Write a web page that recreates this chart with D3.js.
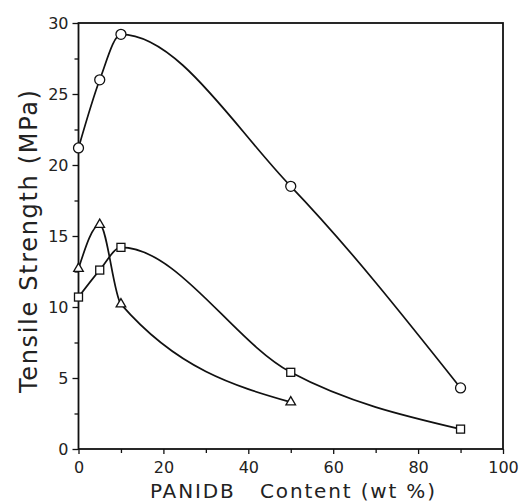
<!DOCTYPE html>
<html><head><meta charset="utf-8">
<script src="https://cdn.jsdelivr.net/npm/d3@7"></script>
<style>
body{margin:0;background:#fff;}
text{font-family:"DejaVu Sans",sans-serif;fill:#222;}
</style></head>
<body><svg id="c" width="521" height="504"></svg>
<script>
const xContent = [0, 5, 10, 50, 90];
const circleVals = [21.2, 26.0, 29.2, 18.5, 4.3];
const squareVals = [10.7, 12.6, 14.2, 5.4, 1.4];
const triX = [0, 5, 10, 50];
const triangleVals = [12.7, 15.8, 10.2, 3.3];
const xTicks = [0, 20, 40, 60, 80, 100];
const yTicks = [0, 5, 10, 15, 20, 25, 30];
const xLabel = "PANIDB   Content (wt %)";
const yLabel = "Tensile Strength (MPa)";

const svg = d3.select("#c");
const x = d3.scaleLinear().domain([0,100]).range([78.5,503]);
const y = d3.scaleLinear().domain([0,30]).range([449,23]);

// frame
svg.append("rect").attr("x",x(0)).attr("y",y(30)).attr("width",x(100)-x(0)).attr("height",y(0)-y(30))
  .attr("fill","none").attr("stroke","#111").attr("stroke-width",1.8);

// x axis
const xa = svg.append("g").attr("transform",`translate(0,${y(0)})`)
  .call(d3.axisBottom(x).tickValues(xTicks).tickSize(5).tickPadding(8).tickFormat(d3.format("d")));
const xm = svg.append("g").attr("transform",`translate(0,${y(0)})`)
  .call(d3.axisBottom(x).tickValues(d3.range(10,100,20)).tickSize(4).tickFormat(""));
// y axis
const ya = svg.append("g").attr("transform",`translate(${x(0)},0)`)
  .call(d3.axisLeft(y).tickValues(yTicks).tickSize(6).tickPadding(4).tickFormat(d3.format("d")));
const ym = svg.append("g").attr("transform",`translate(${x(0)},0)`)
  .call(d3.axisLeft(y).tickValues(d3.range(2.5,30,5)).tickSize(4).tickFormat(""));
[xa,xm,ya,ym].forEach(g=>{
  g.select(".domain").remove();
  g.selectAll("line").attr("stroke","#111").attr("stroke-width",1.3);
  g.selectAll("text").style("font-size","16px").style("font-family","DejaVu Sans").attr("fill","#222");
});

// labels
svg.append("text").attr("x",150).attr("y",498).attr("textLength",285).attr("lengthAdjust","spacing")
  .style("font-size","20px").style("white-space","pre").text(xLabel);
svg.append("text").attr("transform",`translate(37,393) rotate(-90)`).attr("textLength",303).attr("lengthAdjust","spacing")
  .style("font-size","24px").text(yLabel);

const line = d3.line().x(d=>x(d[0])).y(d=>y(d[1])).curve(d3.curveMonotoneX);
function series(xs, ys){ return xs.map((v,i)=>[v, ys[i]]); }
const cData = series(xContent, circleVals);
const sData = series(xContent, squareVals);
const tData = series(triX, triangleVals);
[cData,sData,tData].forEach(d=>{
  svg.append("path").datum(d).attr("d",line).attr("fill","none").attr("stroke","#111").attr("stroke-width",1.7);
});
svg.selectAll(".circ").data(cData).join("circle").attr("cx",d=>x(d[0])).attr("cy",d=>y(d[1])).attr("r",5)
  .attr("fill","#fff").attr("stroke","#111").attr("stroke-width",1.3);
svg.selectAll(".sq").data(sData).join("rect").attr("x",d=>x(d[0])-4).attr("y",d=>y(d[1])-4).attr("width",8).attr("height",8)
  .attr("fill","#fff").attr("stroke","#111").attr("stroke-width",1.3);
const tri = d3.symbol().type(d3.symbolTriangle).size(40);
svg.selectAll(".tri").data(tData).join("path").attr("d",tri).attr("transform",d=>`translate(${x(d[0])},${y(d[1])})`)
  .attr("fill","#fff").attr("stroke","#111").attr("stroke-width",1.3);
</script></body></html>
